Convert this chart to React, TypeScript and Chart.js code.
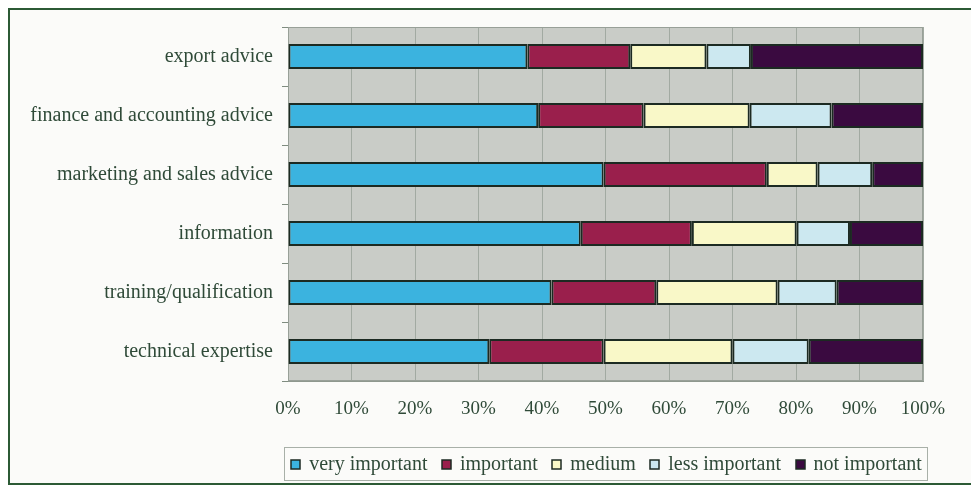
import { useEffect, useRef } from "react";
import { Chart, registerables } from "chart.js";

Chart.register(...registerables);

// Support categories, top to bottom
const categories = [
  "export advice",
  "finance and accounting advice",
  "marketing and sales advice",
  "information",
  "training/qualification",
  "technical expertise",
];

// Share of answers per importance level (percent of respondents)
const veryImportant = [37.7, 39.4, 49.7, 46.1, 41.5, 31.7];
const important = [16.2, 16.6, 25.7, 17.5, 16.5, 18.0];
const medium = [12.0, 16.7, 8.0, 16.5, 19.1, 20.3];
const lessImportant = [7.0, 12.9, 8.6, 8.4, 9.3, 12.0];
const notImportant = [27.1, 14.4, 8.0, 11.5, 13.6, 18.0];

const seriesNames = ["very important", "important", "medium", "less important", "not important"];
const seriesColors = ["#3bb3df", "#9a1f4c", "#f9f8c8", "#cce8f0", "#3a0a40"];

const textColor = "#2f4a38";
const fontFamily = "'Liberation Serif', 'Times New Roman', serif";
const edgeColor = "#1c2a22";

// Gray plot background, plot outline and a boxed legend row under the axis
const plotFrame = {
  id: "plotFrame",
  beforeDraw(chart: any) {
    const { ctx, chartArea: a } = chart;
    ctx.save();
    ctx.fillStyle = "#c9ccc7";
    ctx.fillRect(a.left, a.top, a.right - a.left, a.bottom - a.top);
    ctx.restore();
  },
  beforeDatasetsDraw(chart: any) {
    const { ctx, chartArea: a } = chart;
    ctx.save();
    ctx.strokeStyle = "#98a098";
    ctx.lineWidth = 1;
    ctx.strokeRect(a.left + 0.5, a.top + 0.5, a.right - a.left - 1, a.bottom - a.top - 1);
    ctx.restore();
  },
  afterDraw(chart: any) {
    const { ctx, chartArea: a } = chart;
    const items = chart.data.datasets.map((d: any) => ({
      text: d.label as string,
      fill: d.backgroundColor as string,
    }));
    const fontSize = 20;
    const box = 9;
    const textGap = 9;
    const itemGap = 14.5;
    ctx.save();
    ctx.font = `${fontSize}px ${fontFamily}`;
    const widths = items.map((it: any) => box + textGap + ctx.measureText(it.text).width);
    const total = widths.reduce((s: number, w: number) => s + w, 0) + itemGap * (items.length - 1);
    const cx = (a.left + a.right) / 2 + 1;
    const cy = a.bottom + 83;
    let x = cx - total / 2;
    const start = x;

    ctx.strokeStyle = "#a8b0a8";
    ctx.lineWidth = 1;
    ctx.strokeRect(Math.round(start - 7) + 0.5, Math.round(cy - 17) + 0.5, Math.round(total + 12), 33);

    ctx.textBaseline = "middle";
    ctx.textAlign = "left";
    items.forEach((it: any, i: number) => {
      const by = Math.round(cy - box / 2);
      ctx.fillStyle = it.fill;
      ctx.fillRect(Math.round(x), by, box, box);
      ctx.strokeStyle = edgeColor;
      ctx.lineWidth = 1.5;
      ctx.strokeRect(Math.round(x), by, box, box);
      ctx.fillStyle = textColor;
      ctx.fillText(it.text, x + box + textGap, cy + 1);
      x += widths[i] + itemGap;
    });
    ctx.restore();
  },
};

export default function App() {
  const ref = useRef<HTMLCanvasElement | null>(null);

  useEffect(() => {
    if (!ref.current) return;
    const series = [veryImportant, important, medium, lessImportant, notImportant];
    const chart = new Chart(ref.current, {
      type: "bar",
      data: {
        labels: categories,
        datasets: series.map((values, i) => ({
          label: seriesNames[i],
          data: values,
          backgroundColor: seriesColors[i],
          borderColor: edgeColor,
          borderWidth: 2,
          borderSkipped: false,
          categoryPercentage: 1,
          barPercentage: 0.42,
        })),
      },
      options: {
        indexAxis: "y",
        responsive: false,
        animation: false,
        layout: { padding: { top: 17, right: 50, left: 0, bottom: 41 } },
        scales: {
          x: {
            stacked: true,
            min: 0,
            max: 100,
            ticks: {
              stepSize: 10,
              padding: 17,
              color: textColor,
              font: { family: fontFamily, size: 19 },
              callback: (v: any) => `${v}%`,
            },
            grid: { color: "#a2aaa2", lineWidth: 1, drawTicks: false },
            border: { display: true, color: "#8e988e" },
            afterFit: (s: any) => {
              s.height = 61;
            },
          },
          y: {
            stacked: true,
            ticks: {
              padding: 9,
              color: textColor,
              font: { family: fontFamily, size: 20 },
            },
            grid: {
              offset: true,
              drawOnChartArea: false,
              tickLength: 6,
              color: "#7f8c80",
            },
            border: { display: true, color: "#8e988e" },
            afterFit: (s: any) => {
              s.width = 278;
              s.paddingTop = 0;
              s.paddingBottom = 0;
            },
          },
        },
        plugins: {
          legend: { display: false },
          tooltip: { enabled: false },
        },
      },
      plugins: [plotFrame],
    });
    return () => chart.destroy();
  }, []);

  return (
    <div
      style={{
        width: 967,
        height: 477,
        border: "2px solid #2c5a35",
        boxSizing: "border-box",
        background: "#fbfbf9",
      }}
    >
      <canvas ref={ref} width={963} height={473} style={{ display: "block" }} />
    </div>
  );
}
